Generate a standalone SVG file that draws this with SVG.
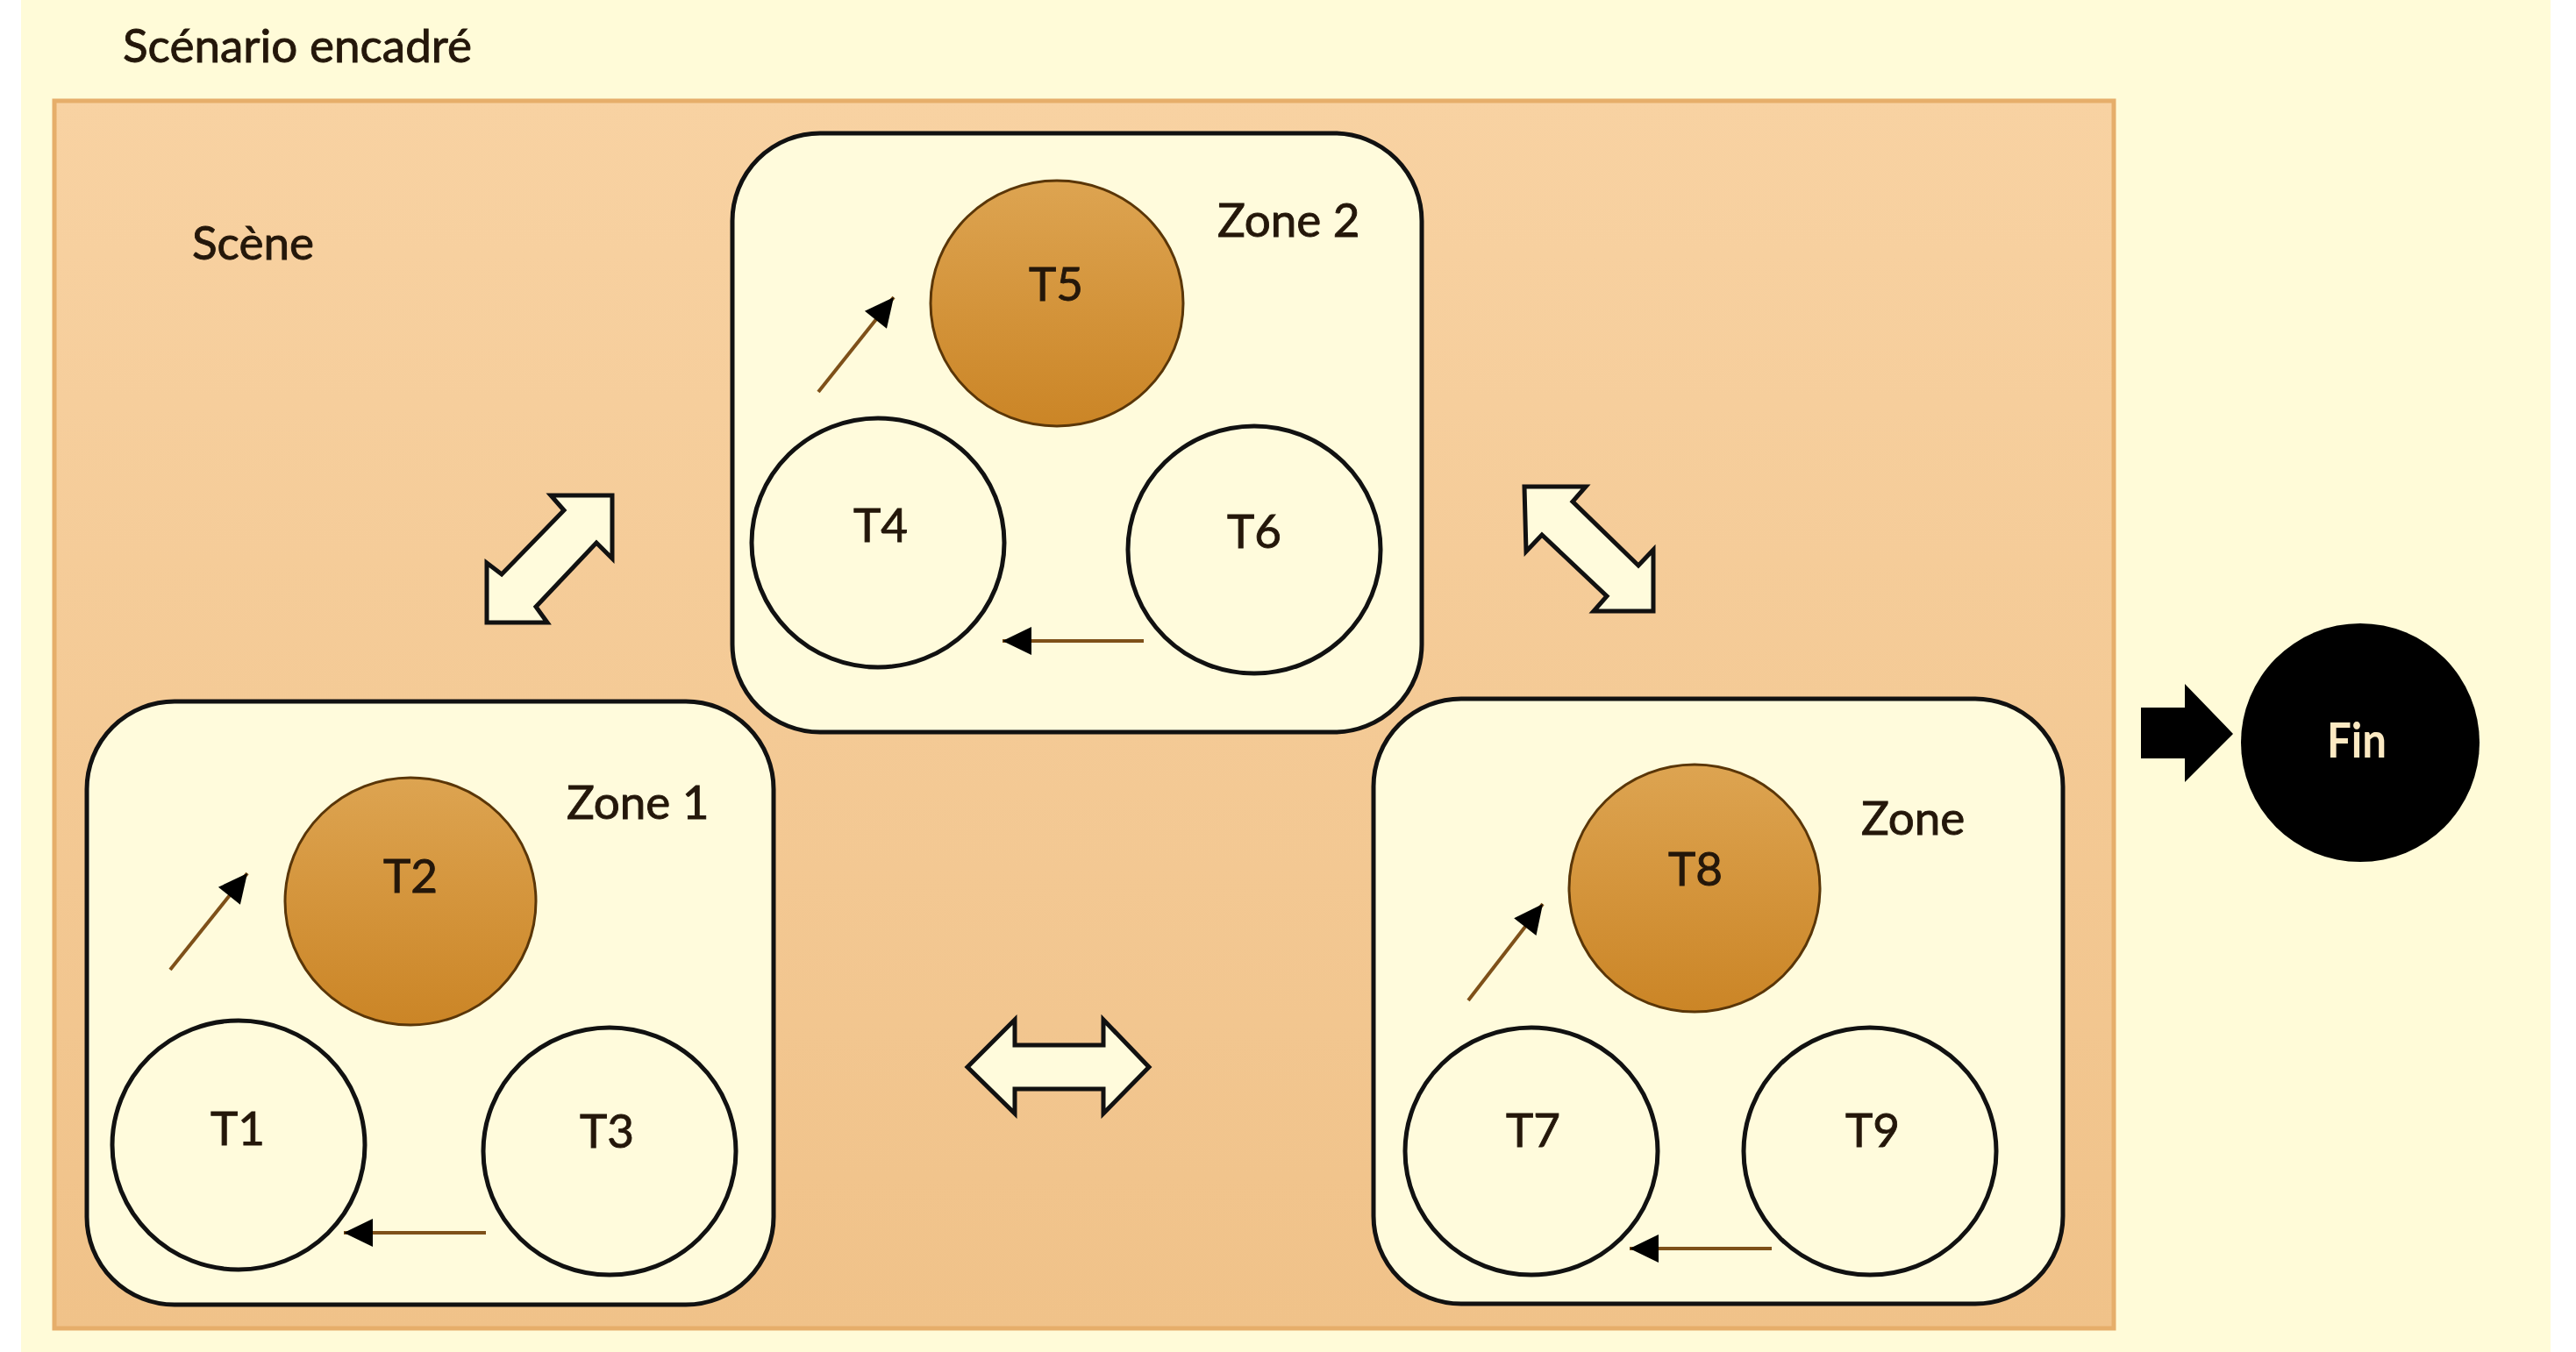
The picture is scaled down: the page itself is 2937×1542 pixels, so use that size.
<svg xmlns="http://www.w3.org/2000/svg" width="2937" height="1542" viewBox="0 0 2937 1542">
  <defs>
    <linearGradient id="sceneFill" x1="0" y1="0" x2="0" y2="1">
      <stop offset="0" stop-color="#F8D2A2"/>
      <stop offset="1" stop-color="#F0C289"/>
    </linearGradient>
    <linearGradient id="activeFill" x1="0" y1="0" x2="0" y2="1">
      <stop offset="0" stop-color="#DDA451"/>
      <stop offset="1" stop-color="#CB8526"/>
    </linearGradient>
    <marker id="head" viewBox="0 0 10 10" refX="9" refY="5" markerWidth="10" markerHeight="10" markerUnits="userSpaceOnUse" orient="auto" overflow="visible">
      <path d="M-24,-11 L9,5 L-24,21 Z" fill="#000"/>
    </marker>
    <style>
      .lbl { font-family: Lato, "Liberation Sans", sans-serif; font-size: 53px; fill: #24170A; stroke: #24170A; stroke-width: 0.9px; }
      .zone { fill: #FFFBDC; stroke: #111; stroke-width: 5; }
      .task { fill: #FFFBDC; stroke: #111; stroke-width: 5; }
      .active { fill: url(#activeFill); stroke: #5A3608; stroke-width: 3; }
      .flow { stroke: #7E5019; stroke-width: 4; fill: none; marker-end: url(#head); }
      .big { fill: #FFFBDC; stroke: #111; stroke-width: 5; stroke-linejoin: miter; }
    </style>
  </defs>

  <!-- page background -->
  <rect x="24" y="0" width="2884" height="1542" fill="#FFFBD8"/>
  <text class="lbl" x="140" y="71">Scénario encadré</text>

  <!-- scene frame -->
  <g id="scene">
    <rect x="62" y="115" width="2348" height="1400" fill="url(#sceneFill)" stroke="#E6AE6A" stroke-width="5"/>
    <text class="lbl" x="219" y="296">Scène</text>
  </g>

  <!-- Zone 2 -->
  <g id="zone2">
    <rect class="zone" x="835" y="152" width="786" height="683" rx="100" ry="100"/>
    <text class="lbl" x="1388" y="270">Zone 2</text>
    <g id="t5">
      <ellipse class="active" cx="1205" cy="346" rx="144" ry="140"/>
      <text class="lbl" x="1204" y="343" text-anchor="middle">T5</text>
    </g>
    <g id="t4">
      <ellipse class="task" cx="1001" cy="619" rx="144" ry="142"/>
      <text class="lbl" x="1004" y="618" text-anchor="middle">T4</text>
    </g>
    <g id="t6">
      <ellipse class="task" cx="1430" cy="627" rx="144" ry="141"/>
      <text class="lbl" x="1430" y="625" text-anchor="middle">T6</text>
    </g>
  </g>

  <!-- Zone 1 -->
  <g id="zone1">
    <rect class="zone" x="99" y="800" width="783" height="688" rx="100" ry="100"/>
    <text class="lbl" x="646" y="934">Zone 1</text>
    <g id="t2">
      <ellipse class="active" cx="468" cy="1028" rx="143" ry="141"/>
      <text class="lbl" x="468" y="1018" text-anchor="middle">T2</text>
    </g>
    <g id="t1">
      <ellipse class="task" cx="272" cy="1306" rx="144" ry="142"/>
      <text class="lbl" x="271" y="1306" text-anchor="middle">T1</text>
    </g>
    <g id="t3">
      <ellipse class="task" cx="695" cy="1313" rx="144" ry="141"/>
      <text class="lbl" x="692" y="1309" text-anchor="middle">T3</text>
    </g>
  </g>

  <!-- Zone (third) -->
  <g id="zone3">
    <rect class="zone" x="1566" y="797" width="786" height="690" rx="100" ry="100"/>
    <text class="lbl" x="2122" y="952">Zone</text>
    <g id="t8">
      <ellipse class="active" cx="1932" cy="1013" rx="143" ry="141"/>
      <text class="lbl" x="1933" y="1010" text-anchor="middle">T8</text>
    </g>
    <g id="t7">
      <ellipse class="task" cx="1746" cy="1313" rx="144" ry="141"/>
      <text class="lbl" x="1748" y="1308" text-anchor="middle">T7</text>
    </g>
    <g id="t9">
      <ellipse class="task" cx="2132" cy="1313" rx="144" ry="141"/>
      <text class="lbl" x="2135" y="1308" text-anchor="middle">T9</text>
    </g>
  </g>

  <!-- end node -->
  <g id="fin">
    <circle cx="2691" cy="847" r="136" fill="#000"/>
    <text x="2687" y="864" text-anchor="middle" font-family="Lato, 'Liberation Sans', sans-serif" font-weight="bold" font-size="56" fill="#FBE9C2" textLength="68" lengthAdjust="spacingAndGlyphs">Fin</text>
  </g>

  <!-- connectors -->
  <g id="connectors">
    <!-- flows inside zones -->
    <line class="flow" x1="1304" y1="731" x2="1143" y2="731"/>
    <line class="flow" x1="933" y1="447" x2="1019" y2="339"/>
    <line class="flow" x1="554" y1="1406" x2="392" y2="1406"/>
    <line class="flow" x1="194" y1="1106" x2="282" y2="996"/>
    <line class="flow" x1="2020" y1="1424" x2="1858" y2="1424"/>
    <line class="flow" x1="1674" y1="1141" x2="1759" y2="1031"/>

    <!-- two-way links between zones -->
    <polygon class="big" points="555,710 624,710 611,692 680,619 698,637 698,565 628,565 643,582 572,655 555,642"/>
    <polygon class="big" points="1738,555 1808,555 1793,572 1868,645 1885,627 1885,697 1817,697 1832,680 1758,610 1740,629"/>
    <polygon class="big" points="1103,1217 1157,1163 1157,1192 1258,1192 1258,1163 1310,1217 1258,1270 1258,1242 1157,1242 1157,1270"/>

    <!-- exit to end node -->
    <polygon points="2441,807 2491,807 2491,780 2546,837 2491,892 2491,865 2441,865" fill="#000"/>
  </g>
</svg>
